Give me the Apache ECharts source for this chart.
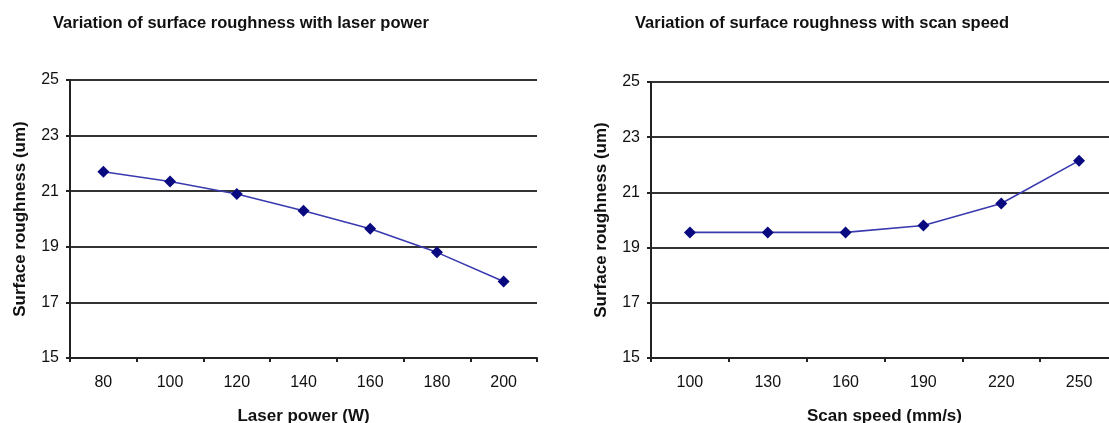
<!DOCTYPE html>
<html>
<head>
<meta charset="utf-8">
<script src="https://cdn.jsdelivr.net/npm/echarts@6/dist/echarts.min.js"></script>
<style>
  html, body { margin: 0; padding: 0; background: #fff; }
  #chart { width: 1109px; height: 423px; }
</style>
</head>
<body>
<div id="chart"></div>
<script>
// Laser power panel
const powerCategories = ['80', '100', '120', '140', '160', '180', '200'];
const powerRoughness = [21.7, 21.35, 20.9, 20.3, 19.65, 18.8, 17.75];

// Scan speed panel
const speedCategories = ['100', '130', '160', '190', '220', '250'];
const speedRoughness = [19.55, 19.55, 19.55, 19.8, 20.6, 22.15];

const yTicks = { min: 15, max: 25, interval: 2 };

const FONT = 'Liberation Sans, Arial, sans-serif';
const lineColor = '#3a3ab0';
const markerColor = '#0a0a80';

function xAxisFor(gridIndex, cats, name) {
  return {
    type: 'category', gridIndex, data: cats, boundaryGap: true,
    name, nameLocation: 'middle', nameGap: 50,
    nameTextStyle: { fontFamily: FONT, fontSize: 17, fontWeight: 'bold', color: '#111' },
    axisLine: { lineStyle: { color: '#222', width: 2 } },
    axisTick: { show: true, length: 4, inside: false, lineStyle: { color: '#222', width: 2 } },
    axisLabel: { fontFamily: FONT, fontSize: 16, color: '#111', margin: 17 },
    splitLine: { show: false }
  };
}

function yAxisFor(gridIndex) {
  return {
    type: 'value', gridIndex, min: yTicks.min, max: yTicks.max, interval: yTicks.interval,
    name: 'Surface roughness (um)', nameLocation: 'middle', nameGap: 41,
    nameTextStyle: { fontFamily: FONT, fontSize: 17, fontWeight: 'bold', color: '#111' },
    axisLine: { show: true, lineStyle: { color: '#222', width: 2 } },
    axisTick: { show: true, length: 4, lineStyle: { color: '#222', width: 2 } },
    axisLabel: { fontFamily: FONT, fontSize: 16, color: '#111', margin: 11 },
    splitLine: { show: true, lineStyle: { color: '#333', width: 2 } }
  };
}

function seriesFor(index, values) {
  return {
    type: 'line', xAxisIndex: index, yAxisIndex: index, data: values,
    symbol: 'diamond', symbolSize: 12, showSymbol: true,
    lineStyle: { color: lineColor, width: 1.6 },
    itemStyle: { color: markerColor, borderWidth: 0 },
    animation: false
  };
}

const chart = echarts.init(document.getElementById('chart'));
chart.setOption({
  backgroundColor: '#fff',
  animation: false,
  title: [
    { text: 'Variation of surface roughness with laser power', left: 48, top: 10,
      textStyle: { fontFamily: FONT, fontSize: 16.5, fontWeight: 'bold', color: '#111' } },
    { text: 'Variation of surface roughness with scan speed', left: 630, top: 10,
      textStyle: { fontFamily: FONT, fontSize: 16.5, fontWeight: 'bold', color: '#111' } }
  ],
  grid: [
    { left: 70, top: 80, width: 467, height: 278, containLabel: false, outerBoundsMode: 'none' },
    { left: 651, top: 82, width: 467, height: 276, containLabel: false, outerBoundsMode: 'none' }
  ],
  xAxis: [
    xAxisFor(0, powerCategories, 'Laser power (W)'),
    xAxisFor(1, speedCategories, 'Scan speed (mm/s)')
  ],
  yAxis: [yAxisFor(0), yAxisFor(1)],
  series: [seriesFor(0, powerRoughness), seriesFor(1, speedRoughness)]
});
</script>
</body>
</html>
